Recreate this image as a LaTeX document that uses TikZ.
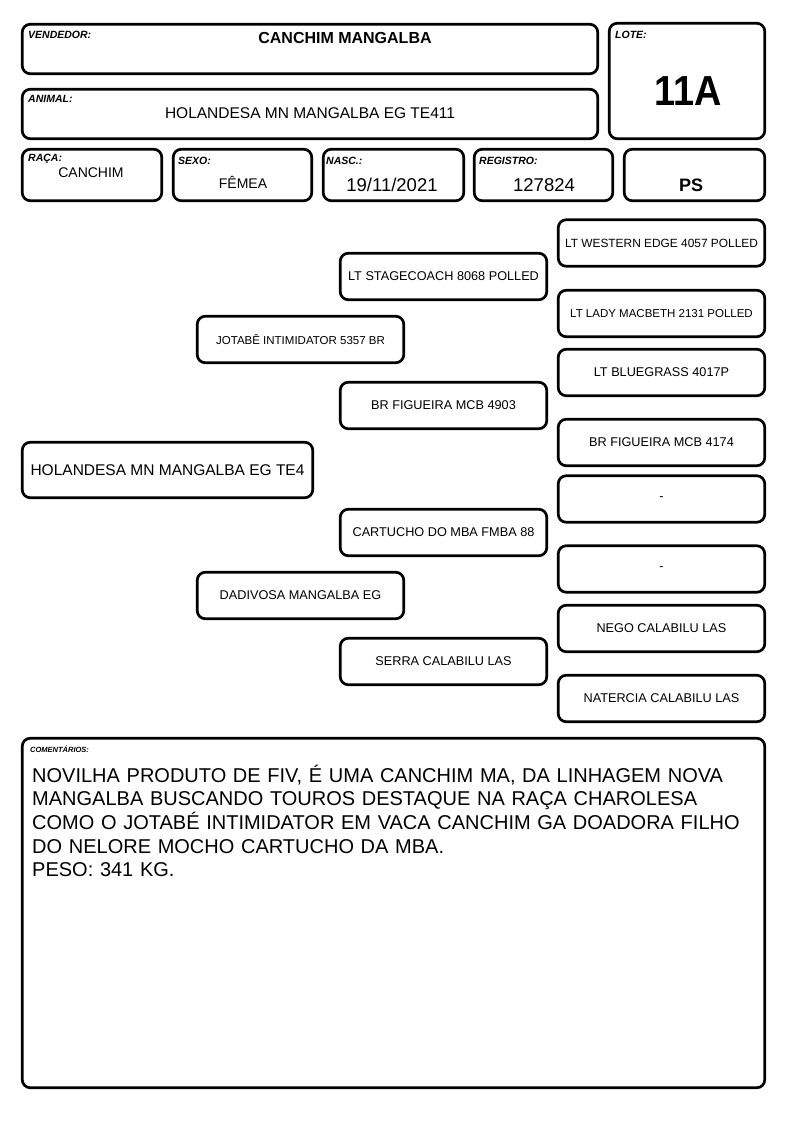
\documentclass[tikz,border=0pt]{standalone}
\usepackage{fontspec}
\setmainfont{Liberation Sans}
\usetikzlibrary{positioning}

\tikzset{
  caixa/.style={draw, line width=2.7pt, rounded corners=8pt, inner sep=0pt},
  pedbox/.style={caixa, minimum width=206.5pt, minimum height=46.5pt, font=\fontsize{12.7}{14}\selectfont},
  rotulo/.style={inner sep=0pt, anchor=base west, font=\fontsize{10.5}{12}\selectfont\bfseries\itshape},
  valor/.style={inner sep=0pt, anchor=base},
}

\begin{document}
\begin{tikzpicture}[x=1pt,y=-1pt]
\useasboundingbox (0,0) rectangle (794,1123);

% cabecalho
\node[caixa, minimum width=575.5pt, minimum height=49.5pt] (vendedor) at (310,49) {};
\node[caixa, minimum width=155.5pt, minimum height=115.5pt] (lote) at (687,81) {};
\node[caixa, minimum width=575.5pt, minimum height=49.5pt] (animal) at (310,114) {};
\node[caixa, minimum width=139.5pt, minimum height=51.5pt] (raca) at (92,175) {};
\node[caixa, minimum width=138.5pt, minimum height=51.5pt] (sexo) at (242.5,175) {};
\node[caixa, minimum width=140.5pt, minimum height=51.5pt] (nasc) at (393.5,175) {};
\node[caixa, minimum width=138.5pt, minimum height=51.5pt] (registro) at (543.5,175) {};
\node[caixa, minimum width=140.5pt, minimum height=51.5pt] (categoria) at (694.5,175) {};

\node[rotulo] (lblvendedor) at (28,39) {VENDEDOR:};
\node[rotulo] (lbllote) at (615,39) {LOTE:};
\node[rotulo] (lblanimal) at (28,103) {ANIMAL:};
\node[rotulo] (lblraca) at (28,162) {RAÇA:};
\node[rotulo] (lblsexo) at (178,165) {SEXO:};
\node[rotulo] (lblnasc) at (326,165) {NASC.:};
\node[rotulo] (lblregistro) at (479,165) {REGISTRO:};

\node[valor, font=\fontsize{16}{18}\selectfont\bfseries] (txtvendedor) at (345,44) {CANCHIM MANGALBA};
\node[valor, font=\fontsize{42}{44}\selectfont\bfseries, xscale=0.9] (txtlote) at (688,106) {11A};
\node[valor, font=\fontsize{15.5}{18}\selectfont] (txtanimal) at (310,119) {HOLANDESA MN MANGALBA EG TE411};
\node[valor, font=\fontsize{14}{16}\selectfont] (txtraca) at (91,178) {CANCHIM};
\node[valor, font=\fontsize{14}{16}\selectfont] (txtsexo) at (243,189) {FÊMEA};
\node[valor, font=\fontsize{18.5}{20}\selectfont] (txtnasc) at (392,192) {19/11/2021};
\node[valor, font=\fontsize{18.5}{20}\selectfont] (txtregistro) at (544,192) {127824};
\node[valor, font=\fontsize{18}{20}\selectfont\bfseries] (txtcategoria) at (691,192) {PS};

% genealogia
\node[caixa, minimum width=290.5pt, minimum height=55.5pt, font=\fontsize{15.5}{18}\selectfont] (animalped) at (167.5,470) {HOLANDESA MN MANGALBA EG TE4};

\node[pedbox, font=\fontsize{11.5}{14}\selectfont] (pai) at (300.5,339.5) {JOTABÊ INTIMIDATOR 5357 BR};
\node[pedbox] (mae) at (300.5,595.5) {DADIVOSA MANGALBA EG};

\node[pedbox] (pp) at (443.5,276.5) {LT STAGECOACH 8068 POLLED};
\node[pedbox] (pm) at (443.5,405.5) {BR FIGUEIRA MCB 4903};
\node[pedbox] (mp) at (443.5,532.5) {CARTUCHO DO MBA FMBA 88};
\node[pedbox] (mm) at (443.5,661.5) {SERRA CALABILU LAS};

\node[pedbox, font=\fontsize{11.9}{14}\selectfont] (ppp) at (661.5,243) {LT WESTERN EDGE 4057 POLLED};
\node[pedbox, font=\fontsize{11.5}{14}\selectfont] (ppm) at (661.5,313.5) {LT LADY MACBETH 2131 POLLED};
\node[pedbox] (pmp) at (661.5,372.5) {LT BLUEGRASS 4017P};
\node[pedbox] (pmm) at (661.5,442.5) {BR FIGUEIRA MCB 4174};
\node[pedbox] (mpp) at (661.5,499) {-};
\node[pedbox] (mpm) at (661.5,569) {-};
\node[pedbox] (mmp) at (661.5,628.5) {NEGO CALABILU LAS};
\node[pedbox] (mmm) at (661.5,698.5) {NATERCIA CALABILU LAS};

% comentarios
\node[caixa, minimum width=742.5pt, minimum height=349.5pt] (comentarios) at (393.5,913) {};
\node[rotulo, font=\fontsize{7.5}{9}\selectfont\bfseries\itshape] (lblcomentarios) at (30,752) {COMENTÁRIOS:};
\node[inner sep=0pt, anchor=base west, text width=735pt, align=left,
      font=\fontsize{20}{23.7}\selectfont] (txtcomentarios) at (32,782)
  {NOVILHA PRODUTO DE FIV, É UMA CANCHIM MA, DA LINHAGEM NOVA\\
   MANGALBA BUSCANDO TOUROS DESTAQUE NA RAÇA CHAROLESA\\
   COMO O JOTABÉ INTIMIDATOR EM VACA CANCHIM GA DOADORA FILHO\\
   DO NELORE MOCHO CARTUCHO DA MBA.\\
   PESO: 341 KG.};
\end{tikzpicture}
\end{document}
